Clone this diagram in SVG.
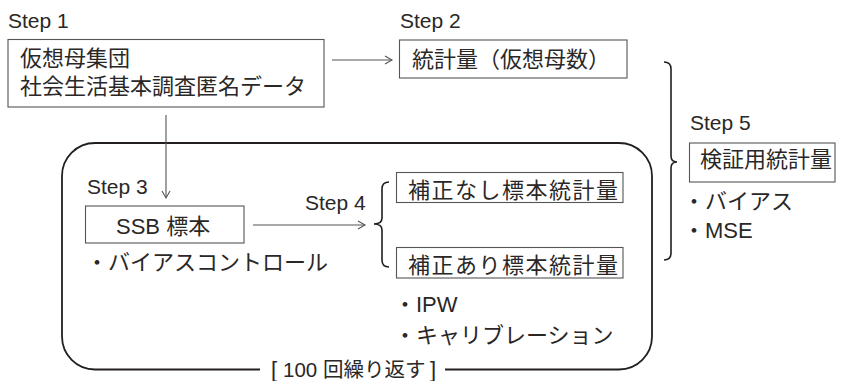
<svg xmlns="http://www.w3.org/2000/svg" width="843" height="381" viewBox="0 0 843 381">
<style>
text{font-family:"Liberation Sans","Noto Sans CJK JP",sans-serif;fill:#2a2727}
.step{font-size:21px}
.t{font-size:22px}
.lbl{font-size:20.5px}
.box{fill:#fff;stroke:#555;stroke-width:1.1}
.conn{fill:none;stroke:#555;stroke-width:1.1}
.brace{fill:none;stroke:#231f20;stroke-width:1.6}
.loop{fill:none;stroke:#231f20;stroke-width:1.8}
</style>
<defs>
<marker id="ah" markerWidth="10" markerHeight="10" refX="8" refY="5" orient="auto" markerUnits="userSpaceOnUse">
<path d="M1,1 L8,5 L1,9" fill="none" stroke="#555" stroke-width="1.1"/>
</marker>
</defs>
<g id="loop">
<path class="loop" d="M260,369.5 L95,369.5 A33,33 0 0 1 62,336.5 L62,176 A33,33 0 0 1 95,143 L619,143 A33,33 0 0 1 652,176 L652,336.5 A33,33 0 0 1 619,369.5 L445,369.5"/>
<text class="t" x="271" y="377">[</text>
<text class="lbl" x="283" y="377">100 回繰り返す</text>
<text class="t" x="430" y="377">]</text>
</g>
<g id="step1">
<text class="step" x="8" y="28">Step 1</text>
<rect class="box" x="8" y="39.5" width="316" height="67.5"/>
<text class="t" x="20" y="66">仮想母集団</text>
<text class="t" x="20" y="94">社会生活基本調査匿名データ</text>
</g>
<g id="step2">
<text class="step" x="400" y="28">Step 2</text>
<rect class="box" x="399.5" y="40" width="227.5" height="38"/>
<text class="t" x="412" y="67">統計量（仮想母数）</text>
</g>
<g id="step3">
<text class="step" x="87" y="194">Step 3</text>
<rect class="box" x="85.5" y="206" width="158.5" height="37"/>
<text class="t" x="116" y="234">SSB 標本</text>
<text class="t" x="86" y="270">・バイアスコントロール</text>
</g>
<g id="step4">
<text class="step" x="305" y="210">Step 4</text>
<path class="brace" d="M389,182 Q382,182 382,189 L382,218 Q382,224 374,224 Q382,224 382,230 L382,260 Q382,267 389,267"/>
</g>
<g id="uncorrected">
<rect class="box" x="396.5" y="172.5" width="226.5" height="30"/>
<text class="t" x="408" y="197.5" textLength="210">補正なし標本統計量</text>
</g>
<g id="corrected">
<rect class="box" x="396.5" y="247.5" width="226.5" height="30.5"/>
<text class="t" x="408" y="273" textLength="210">補正あり標本統計量</text>
<text class="t" x="394" y="312">・IPW</text>
<text class="t" x="394" y="343">・キャリブレーション</text>
</g>
<g id="step5">
<path class="brace" d="M664,62 Q671,62 671,69 L671,156 Q671,162 677,162 Q671,162 671,168 L671,253 Q671,260 664,260"/>
<text class="step" x="690" y="130">Step 5</text>
<rect class="box" x="689.5" y="143" width="145.5" height="39"/>
<text class="t" x="700" y="167">検証用統計量</text>
<text class="t" x="683" y="209">・バイアス</text>
<text class="t" x="683" y="238">・MSE</text>
</g>
<g id="connectors">
<line class="conn" x1="332" y1="60" x2="392" y2="60" marker-end="url(#ah)"/>
<line class="conn" x1="166" y1="115" x2="166" y2="198" marker-end="url(#ah)"/>
<line class="conn" x1="253" y1="225" x2="365" y2="225" marker-end="url(#ah)"/>
</g>
</svg>
